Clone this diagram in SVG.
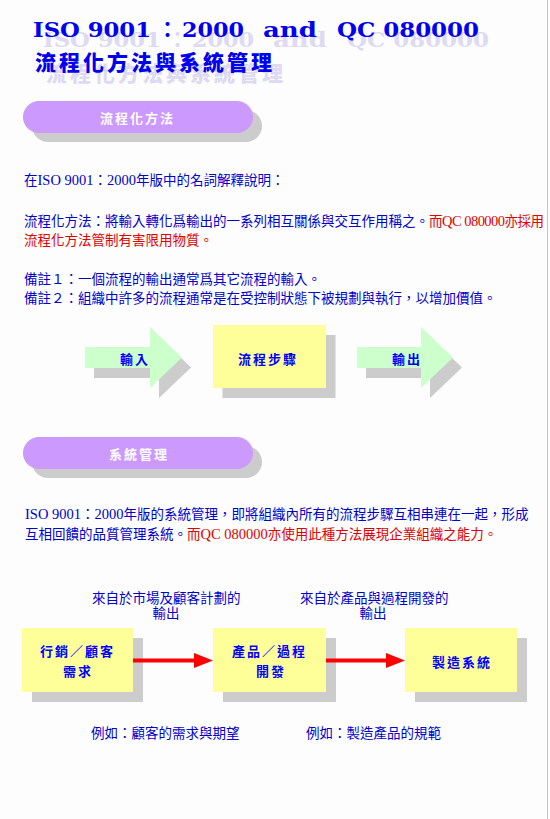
<svg xmlns="http://www.w3.org/2000/svg" width="550" height="819" viewBox="0 0 550 819">
<defs>
<style>
.bg{fill:#fdfdfd}
.sh{fill:#cccccc}
.pill{fill:#cc99ff}
.yel{fill:#ffff99}
.grn{fill:#ccffcc}
.title{font-family:"DejaVu Serif","Liberation Serif","Noto Sans CJK TC",serif;font-weight:bold;font-size:21px}
.tcjk{font-family:"Noto Sans CJK TC","Noto Sans CJK SC",sans-serif;font-weight:900;font-size:21px;letter-spacing:3px}
.blue{fill:#0000ee}
.tsh{fill:#dedaf2}
.body{font-family:"Liberation Serif","Noto Sans CJK TC",serif;font-size:13.5px}
.lat{font-size:14.5px}
.b{fill:#0000cc}
.r{fill:#e00000}
.pt{font-family:"Noto Sans CJK TC",sans-serif;font-weight:bold;font-size:13px;fill:#ffffff;letter-spacing:2px}
.nt{font-family:"Noto Sans CJK TC",sans-serif;font-weight:bold;font-size:13px;fill:#0000ff;letter-spacing:2px}
.conn{stroke:#ff0000;stroke-width:4;fill:none}
</style>
<marker id="ah" markerUnits="userSpaceOnUse" viewBox="0 0 19 15" markerWidth="19" markerHeight="15" refX="10" refY="7.5" orient="auto">
<path d="M0,0 L19,7.5 L0,15 Z" fill="#ff0000"/>
</marker>
</defs>
<rect class="bg" x="0" y="0" width="550" height="819"/>
<rect x="547" y="0" width="1" height="819" fill="#c8c8b4"/>

<g id="title">
<g class="title tsh">
<text x="43" y="47" textLength="118" lengthAdjust="spacingAndGlyphs">ISO 9001</text>
<text x="167" y="47">：</text>
<text x="192" y="47" textLength="62" lengthAdjust="spacingAndGlyphs">2000</text>
<text x="273" y="47" textLength="54" lengthAdjust="spacingAndGlyphs">and</text>
<text x="347" y="47" textLength="142" lengthAdjust="spacingAndGlyphs">QC 080000</text>
</g>
<text class="tcjk tsh" x="46" y="81">流程化方法與系統管理</text>
<g class="title blue">
<text x="33" y="37" textLength="118" lengthAdjust="spacingAndGlyphs">ISO 9001</text>
<text x="157" y="37">：</text>
<text x="182" y="37" textLength="62" lengthAdjust="spacingAndGlyphs">2000</text>
<text x="263" y="37" textLength="54" lengthAdjust="spacingAndGlyphs">and</text>
<text x="337" y="37" textLength="142" lengthAdjust="spacingAndGlyphs">QC 080000</text>
</g>
<text class="tcjk blue" x="35" y="70">流程化方法與系統管理</text>
</g>

<g id="pill1">
<rect class="sh" x="32" y="110" width="230" height="32" rx="16"/>
<rect class="pill" x="23" y="101" width="230" height="32" rx="16"/>
<text class="pt" x="100" y="123" letter-spacing="2.5">流程化方法</text>
</g>

<g id="text1" class="body">
<text class="b" x="24" y="185">在<tspan class="lat">ISO 9001</tspan>：<tspan class="lat">2000</tspan>年版中的名詞解釋說明：</text>
<text class="b" x="24" y="226">流程化方法：將輸入轉化爲輸出的一系列相互關係與交互作用稱之。</text>
<text class="r" x="429" y="226" textLength="115" lengthAdjust="spacing">而<tspan class="lat">QC 080000</tspan>亦採用</text>
<text class="r" x="24" y="245">流程化方法管制有害限用物質。</text>
<text class="b" x="24" y="284">備註１：一個流程的輸出通常爲其它流程的輸入。</text>
<text class="b" x="24" y="303">備註２：組織中許多的流程通常是在受控制狀態下被規劃與執行，以增加價值。</text>
</g>

<g id="input">
<path class="sh" d="M94,357 H159 V337 L191,367.5 L159,398 V378 H94 Z"/>
<path class="grn" d="M85,347 H150 V327 L182,357.5 L150,388 V368 H85 Z"/>
<text class="nt" x="120" y="364">輸入</text>
</g>
<g id="process">
<rect class="sh" x="222.5" y="335" width="113" height="63"/>
<rect class="yel" x="213" y="325" width="113" height="63"/>
<text class="nt" x="238" y="364" letter-spacing="3">流程步驟</text>
</g>
<g id="output">
<path class="sh" d="M366,357 H430 V337 L462,367.5 L430,398 V378 H366 Z"/>
<path class="grn" d="M357,347 H421 V327 L453,357.5 L421,388 V368 H357 Z"/>
<text class="nt" x="392" y="364">輸出</text>
</g>

<g id="pill2">
<rect class="sh" x="32" y="446" width="230" height="32" rx="16"/>
<rect class="pill" x="23" y="437" width="230" height="32" rx="16"/>
<text class="pt" x="109" y="459" letter-spacing="1.5">系統管理</text>
</g>

<g id="text2" class="body">
<text class="b" x="25" y="519"><tspan class="lat">ISO 9001</tspan>：<tspan class="lat">2000</tspan>年版的系統管理，即將組織內所有的流程步驟互相串連在一起，形成</text>
<text class="b" x="25" y="539">互相回饋的品質管理系統。</text>
<text class="r" x="187" y="539">而<tspan class="lat">QC 080000</tspan>亦使用此種方法展現企業組織之能力。</text>
</g>

<g id="labels" class="body">
<text class="b" x="92" y="603">來自於市場及顧客計劃的</text>
<text class="b" x="166" y="618" text-anchor="middle">輸出</text>
<text class="b" x="300" y="603">來自於產品與過程開發的</text>
<text class="b" x="373" y="618" text-anchor="middle">輸出</text>
<text class="b" x="91" y="738">例如：顧客的需求與期望</text>
<text class="b" x="306" y="738">例如：製造產品的規範</text>
</g>

<g id="marketing">
<rect class="sh" x="32" y="638" width="111" height="64"/>
<rect class="yel" x="22" y="628" width="111" height="64"/>
<text class="nt" x="40" y="656">行銷／顧客</text>
<text class="nt" x="63" y="676">需求</text>
</g>
<g id="development">
<rect class="sh" x="223" y="638" width="113" height="64"/>
<rect class="yel" x="213" y="628" width="113" height="64"/>
<text class="nt" x="232" y="656">產品／過程</text>
<text class="nt" x="256" y="676">開發</text>
</g>
<g id="manufacturing">
<rect class="sh" x="415" y="638" width="112" height="64"/>
<rect class="yel" x="405" y="628" width="112" height="64"/>
<text class="nt" x="432" y="667">製造系統</text>
</g>

<g id="connectors">
<path class="conn" d="M133,660.5 H204" marker-end="url(#ah)"/>
<path class="conn" d="M326,660.5 H396" marker-end="url(#ah)"/>
</g>
</svg>
